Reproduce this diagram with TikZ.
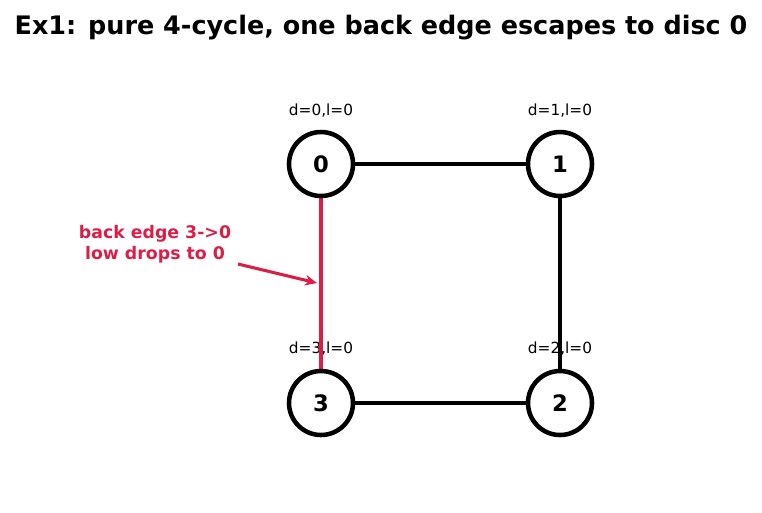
\documentclass[tikz,border=0pt]{standalone}
\usepackage{fontspec}
\setmainfont{DejaVu Sans}
\usepackage{tikz}
\usetikzlibrary{arrows.meta}
\definecolor{backred}{RGB}{220,30,70}

\pgfdeclarelayer{labels}
\pgfdeclarelayer{edges}
\pgfsetlayers{labels,edges,main}

\tikzset{
	vert/.style={circle, draw=black, fill=white, line width=3.4pt, minimum size=48pt, inner sep=0pt, font=\fontsize{17}{19}\selectfont\bfseries},
	dl/.style={font=\fontsize{11.5}{13}\selectfont},
	edge/.style={line width=3.1pt, black},
	backedge/.style={line width=2.7pt, backred}
}

\begin{document}
\begin{tikzpicture}[x=0.75pt, y=-0.75pt]
	\useasboundingbox (0,0) rectangle (762,512);
	
	% title
	\node (title) at (381,28) {\fontsize{19.1}{22}\selectfont\bfseries Ex1: pure 4-cycle, one back edge escapes to disc 0};
	
	% draw nodes
	\node[vert] (v0) at (321,164) {0};
	\node[vert] (v1) at (560,164) {1};
	\node[vert] (v2) at (560,403) {2};
	\node[vert] (v3) at (321,403) {3};
	
	% d and low labels
	\begin{pgfonlayer}{labels}
	\node[dl] (l0) at (321,111) {d=0,l=0};
	\node[dl] (l1) at (560,111) {d=1,l=0};
	\node[dl] (l2) at (560,349) {d=2,l=0};
	\node[dl] (l3) at (321,349) {d=3,l=0};
	\end{pgfonlayer}
	
	% draw edges
	\begin{pgfonlayer}{edges}
	\draw[edge] (v0.center) -- (v1.center);
	\draw[edge] (v1.center) -- (v2.center);
	\draw[edge] (v2.center) -- (v3.center);
	\draw[backedge] (v3.center) -- (v0.center);
	\end{pgfonlayer}
	
	% note on the back edge
	\node[backred, align=center, font=\fontsize{13}{15.5}\selectfont\bfseries] (note) at (155,244) {back edge 3->0\\low drops to 0};
	\coordinate (tail) at (238,264);
	\coordinate (tip) at (317,283);
	\draw[backred, line width=2.3pt, -{Stealth[length=9pt, width=8pt]}] (tail) -- (tip);
\end{tikzpicture}
\end{document}
